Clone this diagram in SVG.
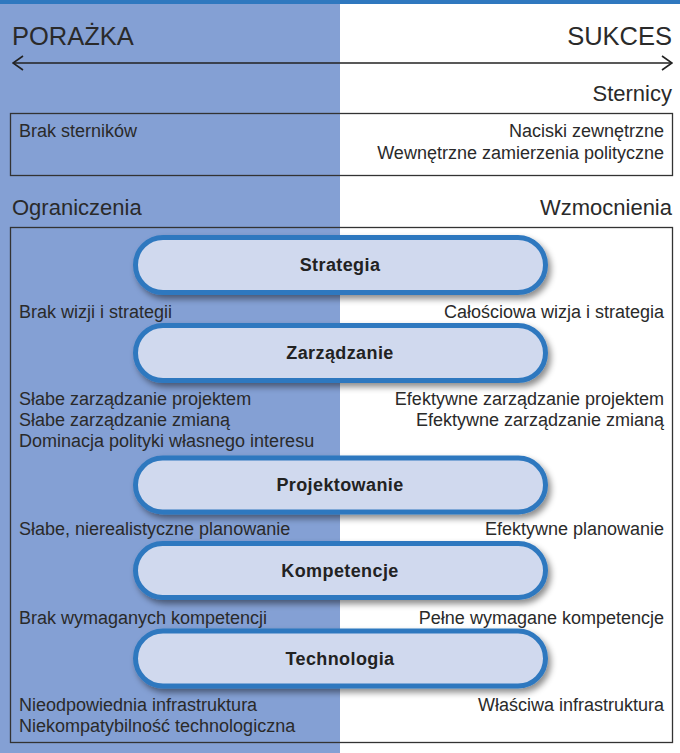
<svg xmlns="http://www.w3.org/2000/svg" width="680" height="753" viewBox="0 0 680 753">
<defs>
<style>
.t{font-family:"Liberation Sans",Arial,sans-serif;fill:#2a2a2a;}
.s{font-size:18px;}
.m{font-size:22px;}
.h{font-size:25.5px;}
.r{text-anchor:end;}
.pl{font-family:"Liberation Sans",Arial,sans-serif;font-size:18px;font-weight:bold;fill:#222;text-anchor:middle;letter-spacing:0.4px;}
.pill{fill:#d0d9ee;stroke:#2f78bf;stroke-width:5;}
.box{fill:none;stroke:#333;stroke-width:1.3;}
</style>
<filter id="sh" x="-10%" y="-30%" width="120%" height="170%">
<feDropShadow dx="3" dy="4" stdDeviation="3" flood-color="#000" flood-opacity="0.45"/>
</filter>
<marker id="ah" viewBox="0 0 12 16" refX="11" refY="8" markerWidth="12" markerHeight="16" markerUnits="userSpaceOnUse" orient="auto-start-reverse">
<path d="M1,1 L11,8 L1,15" fill="none" stroke="#222" stroke-width="1.6"/>
</marker>
</defs>
<rect x="0" y="0" width="680" height="753" fill="#ffffff"/>
<rect x="0" y="0" width="340" height="753" fill="#84a0d4"/>
<rect x="0" y="0" width="680" height="4" fill="#2f78bf"/>

<g id="header">
<text class="t h" x="12" y="45">PORAŻKA</text>
<text class="t h r" x="672" y="45">SUKCES</text>
</g>
<g id="connectors">
<line x1="13" y1="63" x2="672" y2="63" stroke="#222" stroke-width="1.6" marker-start="url(#ah)" marker-end="url(#ah)"/>
</g>

<g id="sternicy">
<text class="t m r" x="672" y="101">Sternicy</text>
<rect class="box" x="10.5" y="113.5" width="662" height="62"/>
<text class="t s" x="19" y="137">Brak sterników</text>
<text class="t s r" x="664" y="137">Naciski zewnętrzne</text>
<text class="t s r" x="664" y="159">Wewnętrzne zamierzenia polityczne</text>
</g>

<g id="labels">
<text class="t m" x="12" y="215">Ograniczenia</text>
<text class="t m r" x="672" y="215">Wzmocnienia</text>
<rect class="box" x="10.5" y="227.5" width="662" height="515"/>
</g>

<g id="strategia">
<rect class="pill" filter="url(#sh)" x="135.5" y="237.5" width="410" height="55" rx="27.5"/>
<text class="pl" x="340" y="271">Strategia</text>
</g>
<g id="strategia-text">
<text class="t s" x="19" y="318">Brak wizji i strategii</text>
<text class="t s r" x="664" y="318">Całościowa wizja i strategia</text>
</g>

<g id="zarzadzanie">
<rect class="pill" filter="url(#sh)" x="135.5" y="325.5" width="410" height="55" rx="27.5"/>
<text class="pl" x="340" y="359">Zarządzanie</text>
</g>
<g id="zarzadzanie-text">
<text class="t s" x="19" y="405">Słabe zarządzanie projektem</text>
<text class="t s" x="19" y="426">Słabe zarządzanie zmianą</text>
<text class="t s" x="19" y="447">Dominacja polityki własnego interesu</text>
<text class="t s r" x="664" y="405">Efektywne zarządzanie projektem</text>
<text class="t s r" x="664" y="426">Efektywne zarządzanie zmianą</text>
</g>

<g id="projektowanie">
<rect class="pill" filter="url(#sh)" x="135.5" y="458" width="410" height="54" rx="27"/>
<text class="pl" x="340" y="491">Projektowanie</text>
</g>
<g id="projektowanie-text">
<text class="t s" x="19" y="535">Słabe, nierealistyczne planowanie</text>
<text class="t s r" x="664" y="535">Efektywne planowanie</text>
</g>

<g id="kompetencje">
<rect class="pill" filter="url(#sh)" x="135.5" y="543.5" width="410" height="54" rx="27"/>
<text class="pl" x="340" y="577">Kompetencje</text>
</g>
<g id="kompetencje-text">
<text class="t s" x="19" y="624">Brak wymaganych kompetencji</text>
<text class="t s r" x="664" y="624">Pełne wymagane kompetencje</text>
</g>

<g id="technologia">
<rect class="pill" filter="url(#sh)" x="135.5" y="631" width="410" height="55" rx="27.5"/>
<text class="pl" x="340" y="665">Technologia</text>
</g>
<g id="technologia-text">
<text class="t s" x="19" y="711">Nieodpowiednia infrastruktura</text>
<text class="t s" x="19" y="732">Niekompatybilność technologiczna</text>
<text class="t s r" x="664" y="711">Właściwa infrastruktura</text>
</g>
</svg>
